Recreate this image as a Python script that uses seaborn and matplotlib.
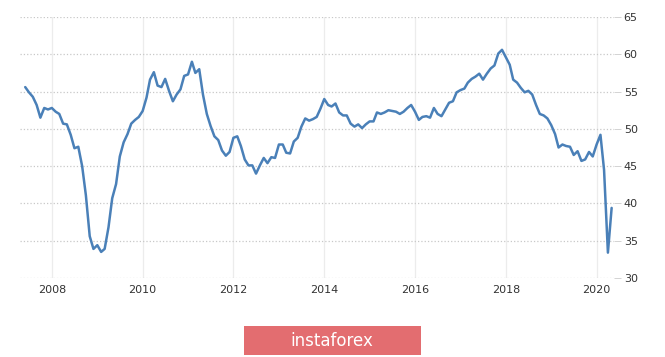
import pandas as pd
import matplotlib.pyplot as plt
import seaborn as sns
from matplotlib.patches import Rectangle

# monthly readings, Jun 2007 .. May 2020
start_month = '2007-06-01'
values = [
    55.6, 54.9, 54.3, 53.2, 51.5, 52.8, 52.6,                               # 2007
    52.8, 52.3, 52.0, 50.7, 50.6, 49.2, 47.4, 47.6, 45.0, 41.1, 35.6, 33.9,  # 2008
    34.4, 33.5, 33.9, 36.8, 40.7, 42.6, 46.3, 48.2, 49.3, 50.7, 51.2, 51.6,  # 2009
    52.4, 54.2, 56.6, 57.6, 55.8, 55.6, 56.7, 55.1, 53.7, 54.6, 55.3, 57.1,  # 2010
    57.3, 59.0, 57.5, 58.0, 54.6, 52.0, 50.4, 49.0, 48.5, 47.1, 46.4, 46.9,  # 2011
    48.8, 49.0, 47.7, 45.9, 45.1, 45.1, 44.0, 45.1, 46.1, 45.4, 46.2, 46.1,  # 2012
    47.9, 47.9, 46.8, 46.7, 48.3, 48.8, 50.3, 51.4, 51.1, 51.3, 51.6, 52.7,  # 2013
    54.0, 53.2, 53.0, 53.4, 52.2, 51.8, 51.8, 50.7, 50.3, 50.6, 50.1, 50.6,  # 2014
    51.0, 51.0, 52.2, 52.0, 52.2, 52.5, 52.4, 52.3, 52.0, 52.3, 52.8, 53.2,  # 2015
    52.3, 51.2, 51.6, 51.7, 51.5, 52.8, 52.0, 51.7, 52.6, 53.5, 53.7, 54.9,  # 2016
    55.2, 55.4, 56.2, 56.7, 57.0, 57.4, 56.6, 57.4, 58.1, 58.5, 60.1, 60.6,  # 2017
    59.6, 58.6, 56.6, 56.2, 55.5, 54.9, 55.1, 54.6, 53.2, 52.0, 51.8, 51.4,  # 2018
    50.5, 49.3, 47.5, 47.9, 47.7, 47.6, 46.5, 47.0, 45.7, 45.9, 46.9, 46.3,  # 2019
    47.9, 49.2, 44.5, 33.4, 39.4,                                           # 2020
]
tick_years = ['2008', '2010', '2012', '2014', '2016', '2018', '2020']
y_ticks = [30, 35, 40, 45, 50, 55, 60, 65]

df = pd.DataFrame({
    'date': pd.date_range(start_month, periods=len(values), freq='MS'),
    'value': values,
})

sns.set_style('white')
plt.rcParams['font.family'] = ['DejaVu Sans']

fig = plt.figure(figsize=(6.65, 3.57), dpi=100)
ax = fig.add_axes([20 / 665, 1 - 278 / 357, 594 / 665, 261 / 357])

sns.lineplot(data=df, x='date', y='value', ax=ax, color='#4a80b8', linewidth=1.8)

ax.set_xlim(pd.Timestamp('2007-04-20'), pd.Timestamp('2020-05-20'))
ax.set_ylim(30, 65)
ax.set_xticks(pd.to_datetime([y + '-01-01' for y in tick_years]))
ax.set_xticklabels(tick_years)
ax.set_yticks(y_ticks)
ax.yaxis.tick_right()
ax.set_xlabel('')
ax.set_ylabel('')

ax.grid(axis='y', linestyle=':', color='#c8c8c8', linewidth=0.9)
ax.grid(axis='x', linestyle='-', color='#ececec', linewidth=0.9)
for s in ax.spines.values():
    s.set_visible(False)

ax.tick_params(axis='y', length=5, width=0.6, color='#cccccc', pad=2,
               labelsize=8, labelcolor='#333333')
ax.tick_params(axis='x', length=0, pad=5, labelsize=8, labelcolor='#333333')

# watermark box
fig.patches.append(Rectangle((244 / 665, 1 - 355 / 357), 177 / 665, 29 / 357,
                             transform=fig.transFigure, facecolor='#e36d70',
                             edgecolor='none'))
fig.text(332 / 665, 1 - 341 / 357, 'instaforex', color='white', fontsize=12,
         ha='center', va='center')

fig.savefig('out.png', dpi=100)
